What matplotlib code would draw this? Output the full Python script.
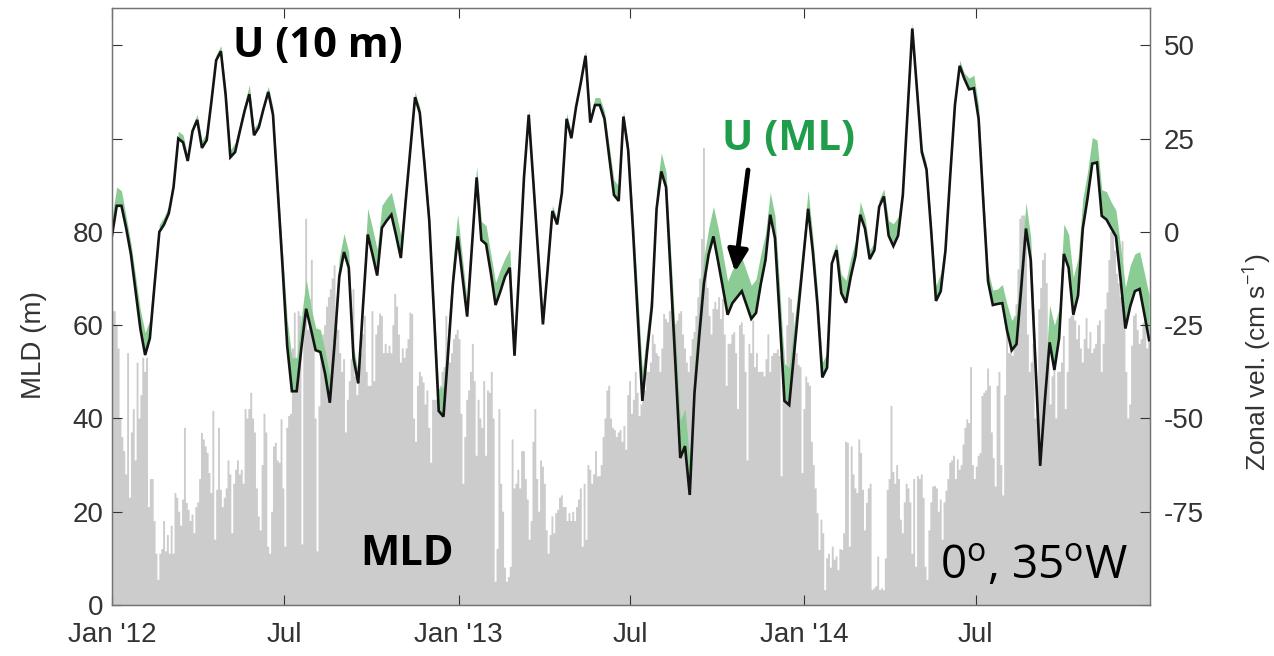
import numpy as np
import matplotlib
matplotlib.use('Agg')
import matplotlib.pyplot as plt
import matplotlib.dates as mdates

plt.rcParams['font.family'] = ['Liberation Sans', 'DejaVu Sans']
plt.rcParams['mathtext.fontset'] = 'custom'
plt.rcParams['mathtext.rm'] = 'Open Sans'

# mixed-layer depth (m), one value per 2 days from 1 Jan 2012
mld = [
    63, 63, 60, 55, 40, 36, 33, 28, 54, 23,
    37, 42, 31, 52, 40, 45, 53, 50, 53, 21,
    27, 27, 18, 11, 5.4, 11, 12, 18, 11.5, 15,
    11, 17, 11, 24, 23, 20, 17, 22.6, 38, 21.9,
    20.4, 18, 19.4, 15.4, 21, 22, 27, 36.9, 35.5, 34,
    32.6, 28.3, 24, 41.6, 14, 24.7, 38, 24.7, 21, 23,
    25, 31, 28, 15.4, 26, 29, 31, 28, 29, 26,
    42, 40, 42, 45.5, 40, 37, 25, 19, 16, 30,
    41, 37, 12.5, 11, 20, 34, 34.8, 31, 30.5, 39.8,
    25, 12.5, 38, 40.5, 41, 55, 62.7, 53, 63, 62,
    13, 63, 82.8, 59, 65.6, 74, 60.6, 40, 11.5, 42.6,
    55.6, 58, 60, 64, 66, 67.7, 70, 72.8, 61, 59,
    54, 50, 52.7, 37, 44, 48, 52.7, 67.7, 49, 45,
    48, 54, 58, 62, 50, 47, 47, 63, 48, 58,
    60, 62.5, 62, 54, 56, 54, 55.6, 54, 60, 66.7,
    64, 58, 52, 55, 53, 55, 57, 62.7, 62.4, 40,
    35, 47, 50, 49, 47.7, 43, 46, 38, 30.5, 44,
    44, 44, 43, 47, 50, 51, 62, 55, 52, 54,
    57, 58, 59, 57, 41, 26, 36, 44, 46, 50,
    56, 48, 32, 44, 40, 38, 48, 32, 46, 45.5,
    50, 40, 5, 12, 42, 26, 20, 8, 5, 6,
    8.2, 35.5, 25, 26, 29, 25, 33, 33, 27, 22.6,
    14, 18, 35, 42, 27, 20, 31, 29.7, 26, 16,
    11, 15, 19, 15.4, 19.7, 20.4, 23, 23.5, 21, 21,
    18, 19.7, 18, 20, 18, 21, 22.6, 25, 12.5, 26,
    14, 30, 29, 26, 28, 33, 27.6, 27.6, 30, 36,
    40, 46, 47, 40, 38, 37.5, 36, 37, 37.5, 35,
    38.4, 33.3, 45, 48, 41, 44, 50, 45.5, 40.5, 43,
    51, 46, 50, 50, 52, 58, 56, 54, 53.4, 50,
    55, 62.4, 61.3, 60.6, 63, 64, 60, 60.2, 61, 62.5,
    63, 58, 55, 52, 50, 53.4, 57, 58.5, 62, 66,
    70, 78.5, 98, 71, 68, 62, 58, 63.5, 65, 63.4,
    66, 61.3, 65.6, 58, 47, 56, 56, 58, 58.5, 54,
    42, 60, 60.6, 58, 50, 31, 56, 54, 61, 51,
    54, 50, 50, 50, 49, 52.7, 58, 50, 53.4, 54,
    54, 54.8, 53.4, 27.6, 54.8, 51, 60, 66, 65.6, 62.7,
    57, 54, 51.5, 51, 28.3, 42, 49, 47.7, 47, 35,
    30, 25, 19.7, 11.8, 18.3, 15.4, 3.2, 10, 11, 8,
    12.5, 9.7, 10.4, 7.5, 12, 11.8, 15.4, 35, 34.8, 12.5,
    34, 28, 25, 24, 35.5, 32.6, 24.7, 16, 21.9, 25,
    26, 3.2, 3.6, 4, 10.4, 3.2, 3.6, 3.2, 10, 24.7,
    27, 42.7, 28.5, 26, 30, 27, 18.3, 15.4, 22, 26,
    25, 22, 11, 27, 8.2, 27.6, 27, 28, 23, 8.2,
    5.4, 16, 22, 25.4, 25.5, 25, 20, 22.6, 14, 22,
    24.5, 27, 30.5, 31, 32, 27, 31.2, 29, 30, 34.4,
    38, 39.8, 39, 51, 30, 27, 29.7, 32, 32.6, 44.8,
    45.5, 46, 50.7, 47, 37, 31.5, 25.4, 47, 50, 30,
    23.5, 45, 60, 54, 57, 53.4, 62, 64.5, 72, 82.8,
    83.5, 83.5, 81, 58, 50, 52, 56, 40, 47, 63.4,
    68, 74, 75.5, 69, 52, 43, 49, 50.5, 40, 50,
    50, 52, 57.7, 42, 50, 61.5, 62, 64, 61, 57,
    60, 55, 52, 57, 61.5, 55, 58.5, 54, 55, 56,
    60, 61, 50, 56, 63.4, 67, 74, 80, 81, 76,
    71, 69, 66, 78, 66, 50, 40, 43, 55.6, 62,
    62.5, 59, 56, 57, 60.5, 61.5, 55, 58,
]

# zonal velocity at 10 m (cm/s), 5-day values from 1 Jan 2012
u10 = [
    -1, 7, 7, 1, -6, -16, -26, -33, -28.5, -14,
    0, 2, 5, 12, 25, 24, 19, 27, 30, 22.5,
    24.6, 35, 46, 48.4, 36.7, 20, 21.4, 27, 32.4, 36.9,
    25.9, 28, 33, 37.5, 31.4, 11, -9, -30.6, -42.7, -42.7,
    -31, -20.6, -26, -31.7, -32.2, -38, -45.8, -30, -12, -5.4,
    -9.6, -33.8, -40.6, -20, -0.7, -6, -11.7, 1.1, 3, 4.6,
    -1, -7, 8, 22, 36.1, 31.9, 18, 3, -22, -48,
    -49.5, -32, -13.8, -1.2, -12, -22.7, -4, 14.6, -2.2, -3.3,
    -11, -19.6, -16, -12, -9.6, -33.2, -10, 14.6, 31.4, 13,
    -6, -24.8, -10, 5.6, 2, 10.4, 30.3, 25.1, 33.5, 40,
    47.2, 29.3, 34, 34, 30.3, 20, 9.9, 8.3, 30.9, 21.9,
    0.9, -22, -45.3, -32, -20.1, 6.2, 16.2, 12, -12, -36,
    -60.6, -57.4, -70.5, -43.2, -28, -13.8, -6, -1.2, -8, -15,
    -22.2, -19.1, -17.5, -15.9, -19.6, -23.3, -21.7, -14, -7.5, 4.6,
    -1.7, -23, -45.3, -46.4, -33, -20, -7, 6.2, -5.4, -20,
    -39, -36.4, -8.5, -4.9, -16.4, -19, -12, -6.4, 4.6, 0.9,
    -7.3, -4.9, 6.7, 9.5, -1, -3.8, -1, 9.9, 32, 54.5,
    38, 21.4, 16.7, 0, -18.5, -15.9, -5, 15, 34, 44.5,
    41, 38.2, 38.5, 30.3, 8, -13.3, -19.6, -19.3, -19.1, -26.4,
    -31.7, -30.1, -15, 0.9, -7.5, -35, -62.7, -45, -29.6, -37,
    -28.5, -5.9, -9.6, -22.2, -17, 0.9, 9, 18.3, 18.6, 4.3,
    3.3, 1, -1.2, -13, -25.9, -20, -15.9, -15.3, -22, -29,
]

# U(ML) minus U(10 m) (cm/s), same 5-day steps
du_ml = [
    5, 5, 4, 3, 3, 4, 5, 6, 5, 4,
    2, 2, 2, 2, 2, 2, 1.5, 1.5, 1.5, 2,
    2, 2, 1.5, 1.5, 2, 2, 2.5, 2, 2, 2.5,
    2, 1.5, 1.5, 1.5, 2, 3, 4, 7, 9, 9,
    8, 8, 6, 6, 6, 6, 7, 6, 5, 5,
    4, 3, 3, 5, 7, 7, 7, 6, 6, 6,
    6, 6, 4, 2, 1.5, 1.5, 2, 2, 3, 6,
    8, 7, 6, 6, 5, 4, 4, 3, 5, 5,
    5, 6, 6, 5, 5, 2, 2, 1.5, 1.5, 1.5,
    1.5, 1.5, 1.5, 1.5, 1.5, 1.5, 1.5, 1.5, 1.5, 1.5,
    1.5, 1.5, 2, 2, 2, 3, 4, 4, 1.5, 2,
    4, 6, 8, 6, 5, 5, 5, 4, 6, 8,
    10, 10, 9, 8, 7, 7, 7, 8, 9, 9,
    9, 9, 9, 9, 9, 9, 9, 8, 7, 6,
    6, 8, 10, 10, 8, 6, 5, 5, 4, 4,
    4, 4, 2, 2, 5, 6, 5, 4, 3.5, 3,
    2.5, 2, 2, 2, 4, 6, 5, 3, 2, 1.5,
    1.5, 1.5, 1.5, 2, 4, 5, 3, 2, 1.5, 1.5,
    1.5, 3, 3.5, 3.5, 3, 3, 4, 4, 5, 7,
    8, 8, 7, 7, 6, 4, 3, 6, 10, 12,
    8, 8, 9, 10, 10, 8, 7, 7, 6, 7,
    7.5, 7, 7, 9, 11, 11, 10, 10, 11, 12,
]

tick_dates = ['2012-01-01', '2012-07-01', '2013-01-01', '2013-07-01', '2014-01-01', '2014-07-01']
tick_names = ["Jan '12", 'Jul', "Jan '13", 'Jul', "Jan '14", 'Jul']

t0 = np.datetime64('2012-01-01')
t1 = np.datetime64('2015-01-01')
mld_edges = mdates.date2num(t0 + np.arange(len(mld) + 1) * np.timedelta64(2, 'D'))
tu = mdates.date2num(t0 + np.arange(len(u10)) * np.timedelta64(5, 'D'))
u10 = np.array(u10)
uml = u10 + np.array(du_ml)

fig = plt.figure(figsize=(12.74, 6.56), dpi=100)
ax = fig.add_axes([0.0879, 0.0777, 0.8148, 0.9101])
ax2 = ax.twinx()

# MLD as grey bars
ax.stairs(mld, mld_edges, fill=True, color='0.8', linewidth=0)
ax.set_ylim(0, 128)
ax.set_xlim(mdates.date2num(t0), mdates.date2num(t1))

# velocities on the right axis
ax2.fill_between(tu, u10, uml, color='#8acc93', linewidth=0)
ax2.plot(tu, u10, color='#141414', linewidth=1.9, solid_joinstyle='miter')
ax2.set_ylim(-100, 60)

tc = '0.2'
ax.set_yticks(range(0, 121, 20))
ax.set_yticklabels(['0', '20', '40', '60', '80', '', ''])
ax2.set_yticks(range(-100, 51, 25))
ax2.set_yticklabels(['', '-75', '-50', '-25', '0', '25', '50'])
ax.set_xticks(mdates.date2num(np.array(tick_dates, dtype='datetime64[D]')))
ax.set_xticklabels(tick_names)

for a in (ax, ax2):
    a.tick_params(direction='in', length=7, width=0.8, color=tc, labelcolor=tc,
                  labelsize=20, pad=6)
    for s in a.spines.values():
        s.set_color('0.45')
        s.set_linewidth(0.9)
ax.tick_params(axis='x', top=True, pad=12)
ax2.tick_params(axis='y', pad=10)

ax.set_ylabel('MLD (m)', fontsize=20, color=tc)
ax.yaxis.set_label_coords(-0.063, 0.4355)
ax2.set_ylabel('Zonal vel. (cm s$^{-1}$)', fontsize=19, color=tc)
ax2.yaxis.set_label_coords(1.087, 0.407)

# annotations
ann = dict(family=['Open Sans', 'DejaVu Sans'], fontsize=30, fontweight='bold')
ax2.text(0.1166, 0.936, 'U (10 m)', transform=ax2.transAxes, ha='left', va='center',
         color='k', **ann)
ax2.text(0.5877, 0.779, 'U (ML)', transform=ax2.transAxes, ha='left', va='center',
         color='#1f9d4a', **ann)
ax2.text(0.239, 0.0838, 'MLD', transform=ax2.transAxes, ha='left', va='center',
         color='k', **ann)
ax2.text(0.979, 0.065, '0$^{\\mathrm{o}}$, 35$^{\\mathrm{o}}$W', transform=ax2.transAxes,
         ha='right', va='center', color='k', fontsize=33, family=['Open Sans', 'DejaVu Sans'])
ax2.annotate('', xy=(0.6002, 0.5578), xytext=(0.6127, 0.7286),
             xycoords='axes fraction', textcoords='axes fraction',
             arrowprops=dict(arrowstyle='-|>,head_length=1.3,head_width=0.6',
                             color='k', lw=3.5, shrinkA=0, shrinkB=0))

fig.savefig('out.png', dpi=100)
